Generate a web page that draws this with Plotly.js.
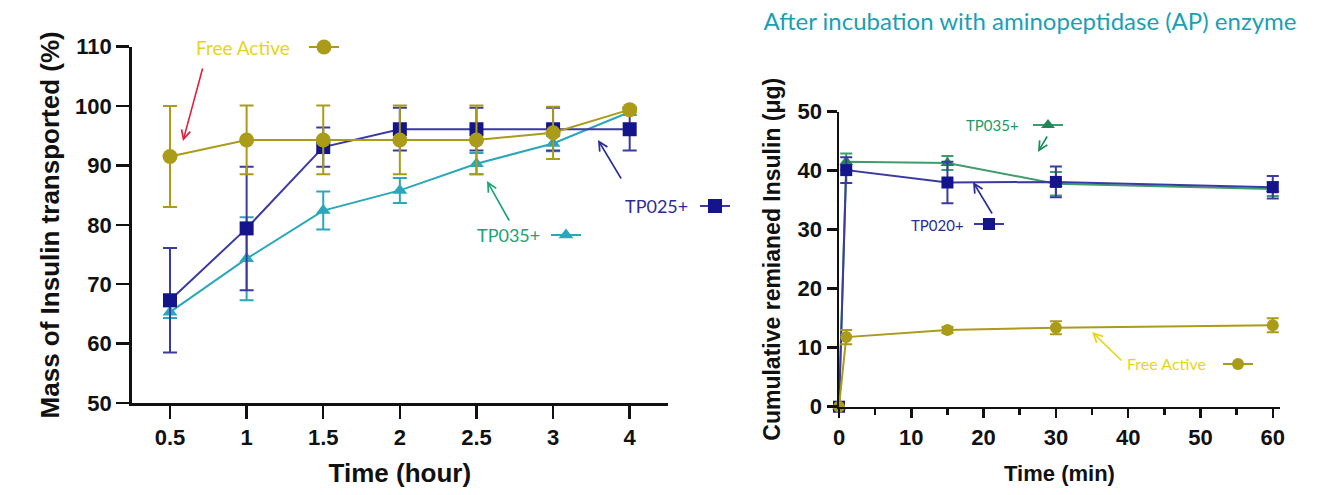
<!DOCTYPE html>
<html>
<head>
<meta charset="utf-8">
<script src="https://cdn.plot.ly/plotly-3.0.1.min.js"></script>
<style>html,body{margin:0;padding:0;background:#fff}#chart{width:1318px;height:495px}</style>
</head>
<body>
<div id="chart"></div>
<script>
// ---- Left panel data (Mass of insulin transported, %) ----
const timeHour = ['0.5', '1', '1.5', '2', '2.5', '3', '4'];
const freeActiveL = [91.5, 94.3, 94.3, 94.3, 94.3, 95.5, 99.4];
const freeActiveLErr = [8.5, 5.8, 5.8, 5.8, 5.8, 4.4, 0.4];
const tp025 = [67.3, 79.4, 93.1, 96.1, 96.1, 96.1, 96.1];
const tp025Err = [8.8, 10.4, 3.3, 3.6, 3.6, 3.6, 3.6];
const tp035L = [65.3, 74.3, 82.4, 85.8, 90.3, 93.7, 99.0];
const tp035LErr = [1.0, 7.0, 3.2, 2.1, 1.8, 1.3, 0.5];

// ---- Right panel data (Cumulative remained insulin, µg) ----
const timeMin = [0, 1, 15, 30, 60];
const freeActiveR = [0, 11.8, 13.0, 13.4, 13.8];
const freeActiveRErr = [0, 1.2, 0.5, 1.1, 1.2];
const tp020 = [0, 40.1, 38.0, 38.1, 37.2];
const tp020Err = [0, 2.2, 3.5, 2.6, 1.9];
const tp035R = [0, 41.5, 41.3, 37.8, 36.9];
const tp035RErr = [0, 1.4, 1.2, 2.0, 1.2];

const W = 1318, H = 495;
const PX = x => x / W;
const PY = y => 1 - y / H;

const OLIVE = '#aa9b18', NAVY = '#14148c', NAVYLINE = '#3a3aa2', TEAL = '#2aa7b8', DGREEN = '#22865a', DGREENLINE = '#3f9c6c';
const YEL = '#e6d41c', GTXT = '#18a474', NTXT = '#2c2c98', RED = '#e2203c';

function tr(x, y, err, xa, ya, color, lineColor, symbol, size, legend, errW) {
  return {
    type: 'scatter', mode: 'lines+markers', x: x, y: y, xaxis: xa, yaxis: ya,
    name: ' ', legend: legend, showlegend: true, cliponaxis: false,
    line: {color: lineColor, width: 2},
    marker: {color: color, symbol: symbol, size: size, line: {width: 0}},
    error_y: {type: 'data', array: err, visible: true, color: lineColor, thickness: 2, width: errW}
  };
}

const data = [
  tr(timeHour, tp035L, tp035LErr, 'x', 'y', TEAL, TEAL, 'triangle-up', 13, 'legend2', 7),
  tr(timeHour, tp025, tp025Err, 'x', 'y', NAVY, NAVYLINE, 'square', 14, 'legend3', 7),
  tr(timeHour, freeActiveL, freeActiveLErr, 'x', 'y', OLIVE, OLIVE, 'circle', 15, 'legend', 7),
  tr(timeMin, tp035R, tp035RErr, 'x2', 'y2', DGREEN, DGREENLINE, 'triangle-up', 12, 'legend4', 6),
  tr(timeMin, tp020, tp020Err, 'x2', 'y2', NAVY, NAVYLINE, 'square', 12, 'legend5', 6),
  tr(timeMin, freeActiveR, freeActiveRErr, 'x2', 'y2', OLIVE, OLIVE, 'circle', 12, 'legend6', 6)
];

const FAM = 'Arial, Liberation Sans, sans-serif';
const AX_FONT = {family: FAM, size: 22, color: '#111', weight: 'bold'};
const TITLE_FONT = {family: FAM, size: 26, color: '#111', weight: 'bold'};
const ANN_FAMILY = 'Lato, Open Sans, sans-serif';

function axisBase() {
  return {showline: true, linecolor: '#111', linewidth: 2.5, ticks: 'outside', tickcolor: '#111',
          tickwidth: 2.5, showgrid: false, zeroline: false, tickfont: AX_FONT, fixedrange: true};
}

function leg(cx, cy) {
  return {x: PX(cx - 19), y: PY(cy), xanchor: 'left', yanchor: 'middle', bgcolor: 'rgba(0,0,0,0)',
          borderwidth: 0, font: {size: 10}, itemclick: false, itemdoubleclick: false};
}

function txt(text, cx, cy, color, size) {
  return {text: text, x: PX(cx), y: PY(cy), xref: 'paper', yref: 'paper', showarrow: false,
          xanchor: 'center', yanchor: 'middle', font: {family: ANN_FAMILY, size: size, color: color}};
}
function arrow(hx, hy, tx, ty, color) {
  return {text: '', x: PX(hx), y: PY(hy), xref: 'paper', yref: 'paper', showarrow: true,
          ax: tx - hx, ay: ty - hy, arrowhead: 5, arrowsize: 1.1, arrowwidth: 1.6, arrowcolor: color, standoff: 0, startstandoff: 0};
}

const layout = {
  width: W, height: H, margin: {l: 0, r: 0, t: 0, b: 0},
  paper_bgcolor: '#fff', plot_bgcolor: 'rgba(0,0,0,0)',
  title: {text: 'After incubation with aminopeptidase (AP) enzyme', x: PX(1030), xanchor: 'center',
          y: PY(22), yanchor: 'middle', font: {family: ANN_FAMILY, size: 24, color: '#1b9fb4'}},
  xaxis: Object.assign(axisBase(), {domain: [PX(131.7), PX(668)], anchor: 'y', type: 'category',
          categoryorder: 'array', categoryarray: timeHour, range: [-0.5, 6.5], ticklen: 13,
          title: {text: 'Time (hour)', font: TITLE_FONT, standoff: 15}}),
  yaxis: Object.assign(axisBase(), {domain: [1 - 403 / H, 1 - 46.7 / H], anchor: 'x', range: [50, 110],
          tick0: 50, dtick: 10, ticklen: 13,
          title: {text: 'Mass of Insulin transported (%)', font: TITLE_FONT, standoff: 8}}),
  xaxis2: Object.assign(axisBase(), {domain: [PX(839), PX(1280)], anchor: 'y2', range: [0, 61],
          tick0: 0, dtick: 10, ticklen: 9,
          minor: {ticks: 'outside', ticklen: 6, tickwidth: 2.5, tickcolor: '#111', dtick: 5, tick0: 0},
          title: {text: 'Time (min)', font: {family: FAM, size: 22, color: '#111', weight: 'bold'}, standoff: 17}}),
  yaxis2: Object.assign(axisBase(), {domain: [1 - 406.7 / H, 1 - 111.7 / H], anchor: 'x2', range: [0, 50],
          tick0: 0, dtick: 10, ticklen: 10,
          title: {text: 'Cumulative remianed Insulin (\u03bcg)', font: {family: FAM, size: 23, color: '#111', weight: 'bold'}, standoff: 11}}),
  showlegend: true,
  legend: leg(323, 47),
  legend2: leg(565, 235),
  legend3: leg(714, 206),
  legend4: leg(1047, 125),
  legend5: leg(988, 224),
  legend6: leg(1237, 364),
  annotations: [
    txt('Free Active', 243, 48, YEL, 19),
    txt('TP035+', 508, 235, GTXT, 18),
    txt('TP025+', 656, 206, NTXT, 18),
    txt('TP035+', 992, 125, '#1e9a68', 15),
    txt('TP020+', 937, 225, NTXT, 15),
    txt('Free Active', 1166, 363, YEL, 16),
    arrow(183, 141, 203, 67, RED),
    arrow(487, 181, 510, 222, GTXT),
    arrow(598, 140, 622, 180, NTXT),
    arrow(1038, 152, 1048, 135, '#178f5a'),
    arrow(973, 182, 993, 215, NTXT),
    arrow(1092, 332, 1123, 362, YEL)
  ]
};

Plotly.newPlot('chart', data, layout, {displayModeBar: false, staticPlot: true});
</script>
</body>
</html>
